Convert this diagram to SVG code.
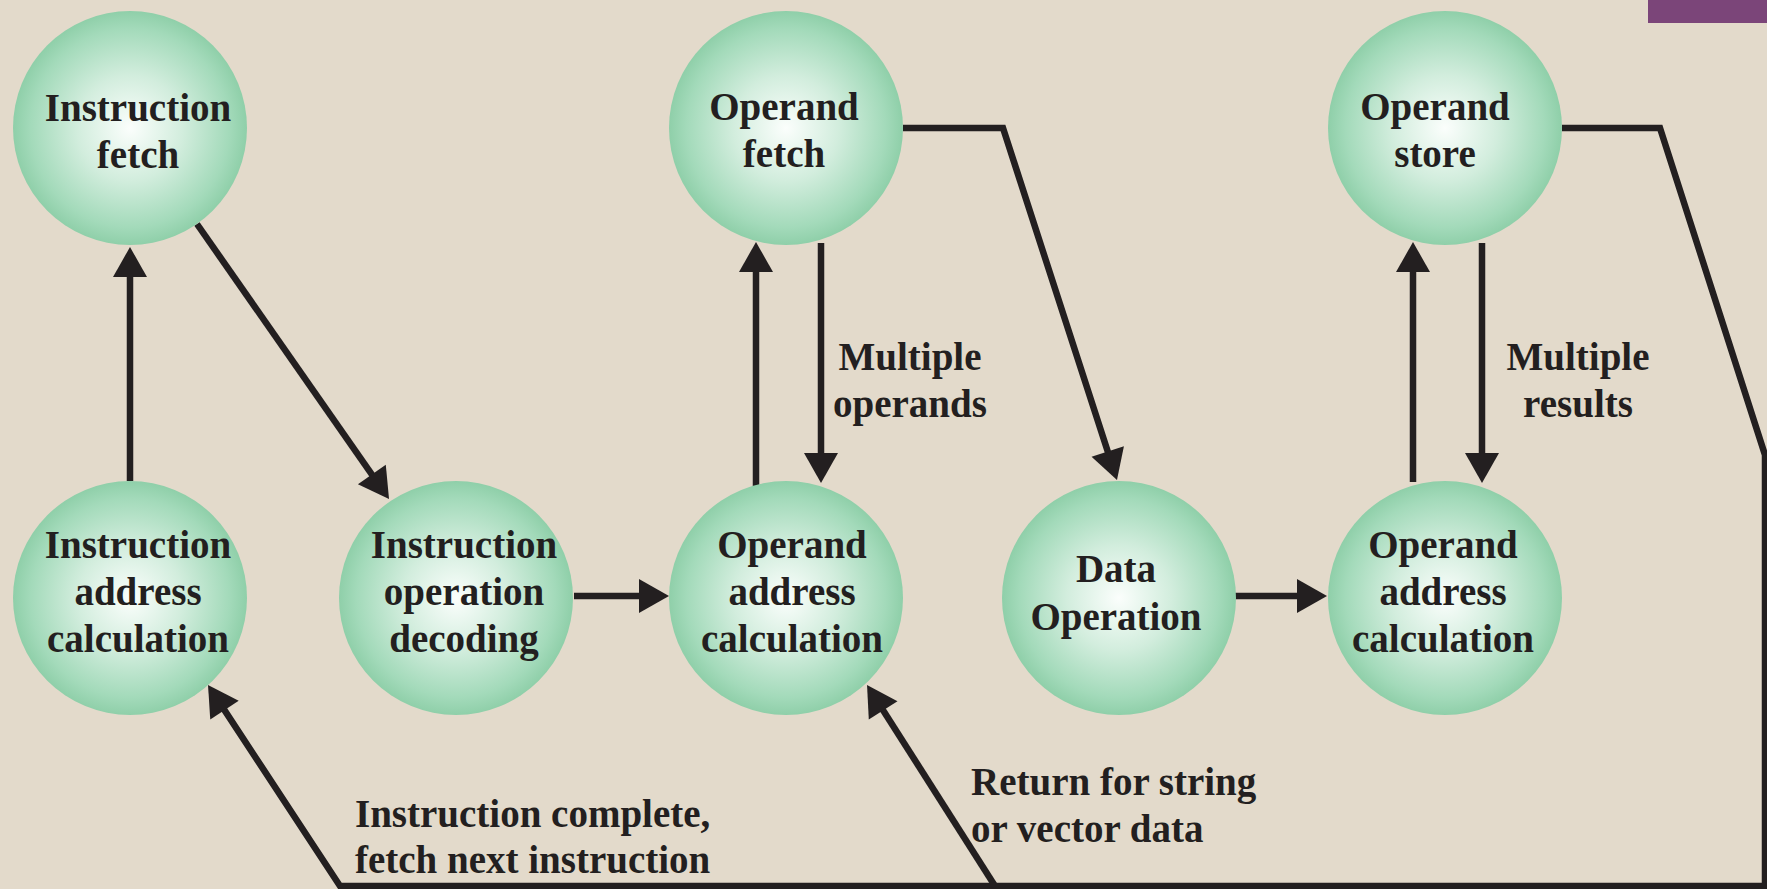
<svg xmlns="http://www.w3.org/2000/svg" width="1767" height="889" viewBox="0 0 1767 889">
  <defs>
    <radialGradient id="ball" cx="50%" cy="50%" r="50%">
      <stop offset="0" stop-color="#FBFEFC"/>
      <stop offset="0.45" stop-color="#D2EDDD"/>
      <stop offset="0.85" stop-color="#A3DABA"/>
      <stop offset="1" stop-color="#8FCFA9"/>
    </radialGradient>
    <marker id="arr" markerUnits="userSpaceOnUse" markerWidth="30" markerHeight="34" refX="20" refY="17" orient="auto" overflow="visible">
      <path d="M0,0 L30,17 L0,34 z" fill="#231F20"/>
    </marker>
    <style>
      .node circle { fill: url(#ball); }
      .t { font-weight: bold; font-size: 39px; fill: #231F20; text-anchor: middle; }
      .lbl { text-anchor: start; }
      .c { fill: none; stroke: #231F20; stroke-width: 6.5; stroke-linejoin: miter; }
      .a { marker-end: url(#arr); }
    </style>
  </defs>
  <rect x="0" y="0" width="1767" height="889" fill="#E3DACB"/>
  <rect x="1648" y="0" width="119" height="23" fill="#7B4579"/>

  <g id="connectors">
    <path class="c a" d="M130,481 L130,257"/>
    <path class="c a" d="M197,224 L383.3,490.8"/>
    <path class="c a" d="M574,596 L659,596"/>
    <path class="c a" d="M756,492 L756,252"/>
    <path class="c a" d="M821,243 L821,473"/>
    <path class="c a" d="M903,128 L1003,128 L1113.9,470.5"/>
    <path class="c a" d="M1232,596 L1317,596"/>
    <path class="c a" d="M1413,482 L1413,252"/>
    <path class="c a" d="M1482,243 L1482,473"/>
    <path class="c a" d="M1562,128 L1660,128 L1765,455 L1765,886 L340,886 L213.5,693.4"/>
    <path class="c a" d="M995,886 L872.4,693.4"/>
  </g>

  <g class="t" font-family="Liberation Serif, Times New Roman, serif">
  <g id="instruction-fetch" class="node">
    <circle cx="130" cy="128" r="117"/>
    <text x="138" y="121">Instruction</text>
    <text x="138" y="168">fetch</text>
  </g>
  <g id="instruction-address-calculation" class="node">
    <circle cx="130" cy="598" r="117"/>
    <text x="138" y="558">Instruction</text>
    <text x="138" y="605">address</text>
    <text x="138" y="652">calculation</text>
  </g>
  <g id="instruction-operation-decoding" class="node">
    <circle cx="456" cy="598" r="117"/>
    <text x="464" y="558">Instruction</text>
    <text x="464" y="605">operation</text>
    <text x="464" y="652">decoding</text>
  </g>
  <g id="operand-fetch" class="node">
    <circle cx="786" cy="128" r="117"/>
    <text x="784" y="120">Operand</text>
    <text x="784" y="167">fetch</text>
  </g>
  <g id="operand-address-calculation-1" class="node">
    <circle cx="786" cy="598" r="117"/>
    <text x="792" y="558">Operand</text>
    <text x="792" y="605">address</text>
    <text x="792" y="652">calculation</text>
  </g>
  <g id="data-operation" class="node">
    <circle cx="1119" cy="598" r="117"/>
    <text x="1116" y="582">Data</text>
    <text x="1116" y="630">Operation</text>
  </g>
  <g id="operand-store" class="node">
    <circle cx="1445" cy="128" r="117"/>
    <text x="1435" y="120">Operand</text>
    <text x="1435" y="167">store</text>
  </g>
  <g id="operand-address-calculation-2" class="node">
    <circle cx="1445" cy="598" r="117"/>
    <text x="1443" y="558">Operand</text>
    <text x="1443" y="605">address</text>
    <text x="1443" y="652">calculation</text>
  </g>

  <g id="labels">
    <text x="910" y="370">Multiple</text>
    <text x="910" y="417">operands</text>
    <text x="1578" y="370">Multiple</text>
    <text x="1578" y="417">results</text>
    <text class="lbl" x="355" y="827">Instruction complete,</text>
    <text class="lbl" x="355" y="873">fetch next instruction</text>
    <text class="lbl" x="971" y="795">Return for string</text>
    <text class="lbl" x="971" y="842">or vector data</text>
  </g>
  </g>
</svg>
